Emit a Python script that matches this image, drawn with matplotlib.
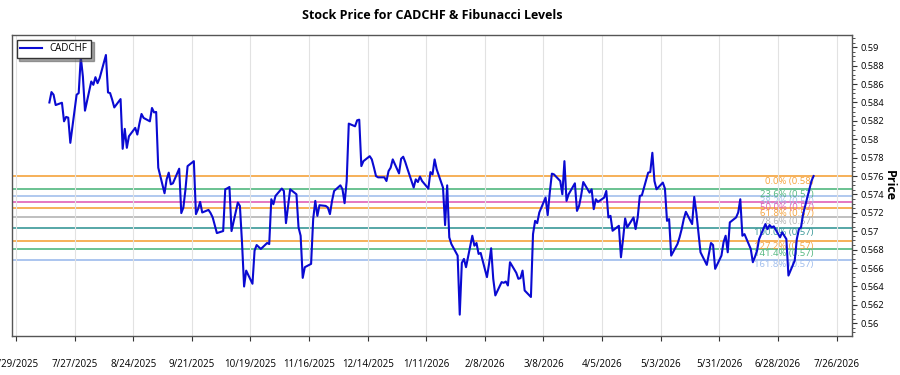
import pandas as pd
import matplotlib
matplotlib.use("Agg")
import matplotlib.pyplot as plt
import matplotlib.dates as mdates
from matplotlib.ticker import FuncFormatter, MultipleLocator, AutoMinorLocator

plt.rcParams['font.family'] = ['Open Sans', 'DejaVu Sans']

ticker = "CADCHF"
start_date = "2025-07-15"
end_date = "2026-07-15"

# daily closes (business days)
closes = [
	0.58400, 0.58513, 0.58484, 0.58372,
	0.58397, 0.58195, 0.58243, 0.58235, 0.57961,
	0.58484, 0.58502, 0.58895, 0.58682, 0.58311,
	0.58628, 0.58592, 0.58675, 0.58610, 0.58664,
	0.58916, 0.58509, 0.58502, 0.58430, 0.58346,
	0.58437, 0.57896, 0.58113, 0.57907, 0.58033,
	0.58124, 0.58051, 0.58170, 0.58275, 0.58232,
	0.58195, 0.58340, 0.58292, 0.58297, 0.57691,
	0.57413, 0.57564, 0.57637, 0.57510, 0.57521,
	0.57680, 0.57197, 0.57258, 0.57456, 0.57708,
	0.57762, 0.57186, 0.57240, 0.57319, 0.57204,
	0.57232, 0.57197, 0.57150, 0.57067, 0.56980,
	0.57002, 0.57456, 0.57467, 0.57481, 0.57002,
	0.57312, 0.57275, 0.56880, 0.56399, 0.56572,
	0.56429, 0.56789, 0.56850, 0.56829, 0.56807,
	0.56872, 0.56861, 0.57348, 0.57294, 0.57384,
	0.57464, 0.57438, 0.57088, 0.57275, 0.57456,
	0.57402, 0.57042, 0.56951, 0.56493, 0.56609,
	0.56645, 0.57132, 0.57330, 0.57167, 0.57283,
	0.57275, 0.57258, 0.57186, 0.57330, 0.57438,
	0.57499, 0.57456, 0.57305, 0.57546, 0.58170,
	0.58141, 0.58206, 0.58213, 0.57708, 0.57762,
	0.57816, 0.57781, 0.57694, 0.57600, 0.57586,
	0.57586, 0.57546, 0.57654, 0.57691, 0.57781,
	0.57629, 0.57788, 0.57810, 0.57751, 0.57680,
	0.57475, 0.57564, 0.57535, 0.57594, 0.57546,
	0.57464, 0.57643, 0.57618, 0.57781, 0.57672,
	0.57475, 0.57067, 0.57499, 0.56934, 0.56861,
	0.56735, 0.56093, 0.56656, 0.56699, 0.56609,
	0.56951, 0.56843, 0.56872, 0.56753, 0.56764,
	0.56501, 0.56645, 0.56815, 0.56483, 0.56302,
	0.56447, 0.56439, 0.56453, 0.56410, 0.56663,
	0.56548, 0.56483, 0.56490, 0.56572, 0.56356,
	0.56285, 0.56969, 0.57113, 0.57088, 0.57204,
	0.57366, 0.57175, 0.57420, 0.57626, 0.57618,
	0.57546, 0.57402, 0.57762, 0.57330, 0.57402,
	0.57521, 0.57221, 0.57275, 0.57391, 0.57535,
	0.57420, 0.57456, 0.57240, 0.57348, 0.57319,
	0.57366, 0.57438, 0.57150, 0.57167, 0.57005,
	0.57059, 0.56717, 0.56915, 0.57139, 0.57042,
	0.57150, 0.57023, 0.57150, 0.57384, 0.57391,
	0.57637, 0.57643, 0.57853, 0.57546, 0.57456,
	0.57529, 0.57464, 0.57113, 0.57132, 0.56735,
	0.56861, 0.56934, 0.57023, 0.57132, 0.57211,
	0.57078, 0.57373, 0.57204, 0.56988, 0.56771,
	0.56634, 0.56753, 0.56872, 0.56850, 0.56591,
	0.56735, 0.56880, 0.56951, 0.56771, 0.57096,
	0.57150, 0.57204, 0.57348, 0.56951, 0.56969,
	0.56807, 0.56663, 0.56721, 0.56789, 0.56915,
	0.57078, 0.57023, 0.57067, 0.57042, 0.57053,
	0.56934, 0.56988, 0.56951, 0.56915, 0.56518,
	0.56681, 0.56915, 0.57023, 0.57042, 0.57186,
	0.57456, 0.57546, 0.57600,
]

fib_ratios = [0.0, 0.236, 0.382, 0.5, 0.618, 0.786, 1.0, 1.272, 1.414, 1.618]
fib_levels = [0.5760, 0.5746, 0.5738, 0.5732, 0.5725, 0.5716, 0.5704, 0.5689, 0.5681, 0.5669]
fib_colors = ['#f5a33c', '#52b77f', '#a3c0ec', '#e060b8', '#f5a33c',
              '#b4b4b4', '#3a9898', '#f5a33c', '#52b77f', '#9dbbec']

tick_start = "2025-06-29"
tick_end = "2026-07-26"


def plotFib(ax, last_date):
	for ratio, level, color in zip(fib_ratios, fib_levels, fib_colors):
		ax.axhline(level, color=color, linewidth=1.2, zorder=1)
		ax.text(last_date, level - 0.00008, "{:.1f}% ({:.2f})".format(ratio * 100, level),
		        color=color, fontsize=6.8, ha='right', va='top', zorder=2)


if __name__ == '__main__':
	dates = pd.bdate_range(start_date, end_date)
	df = pd.DataFrame({'date': dates, 'close': closes})

	fig, ax = plt.subplots(figsize=(9, 3.75), dpi=100)
	fig.subplots_adjust(left=0.013, right=0.947, top=0.9075, bottom=0.105)

	ax.plot(df.date, df.close, color='#0a0ad2', linewidth=1.5, label=ticker, zorder=3)
	plotFib(ax, df.date.iloc[-1])

	ax.set_xlim(pd.Timestamp("2025-06-27"), pd.Timestamp("2026-08-02 12:00"))
	ax.set_ylim(0.55865, 0.59137)

	ticks = pd.date_range(tick_start, tick_end, freq='28D')
	ax.set_xticks(ticks)
	ax.xaxis.set_major_formatter(FuncFormatter(
		lambda x, pos: "{d.month}/{d.day}/{d.year}".format(d=mdates.num2date(x))))
	ax.tick_params(axis='x', labelsize=7, pad=13, length=3.5, color='#333333')
	ax.grid(axis='x', color='#e2e2e2', linewidth=0.8)

	ax.yaxis.tick_right()
	ax.yaxis.set_label_position('right')
	ax.yaxis.set_major_locator(MultipleLocator(0.002))
	ax.yaxis.set_minor_locator(AutoMinorLocator(4))
	ax.yaxis.set_major_formatter(FuncFormatter(lambda y, pos: "{:g}".format(round(y, 3))))
	ax.tick_params(axis='y', which='major', labelsize=6.7, length=3.5, pad=2.5, color='#333333')
	ax.tick_params(axis='y', which='minor', length=2, color='#333333')
	ax.set_ylabel('Price', rotation=270, fontsize=9, fontweight='bold', labelpad=8)

	for s in ax.spines.values():
		s.set_color('#555555')
		s.set_linewidth(1.0)

	ax.set_title('Stock Price for ' + ticker + ' & Fibunacci Levels',
	             fontsize=9, fontweight='bold', pad=11)
	leg = ax.legend(loc='upper left', fontsize=7, fancybox=False, shadow=True,
	                borderaxespad=0.5, handlelength=2.2)
	leg.get_frame().set_edgecolor('#333333')

	fig.savefig('out.png', dpi=100)
